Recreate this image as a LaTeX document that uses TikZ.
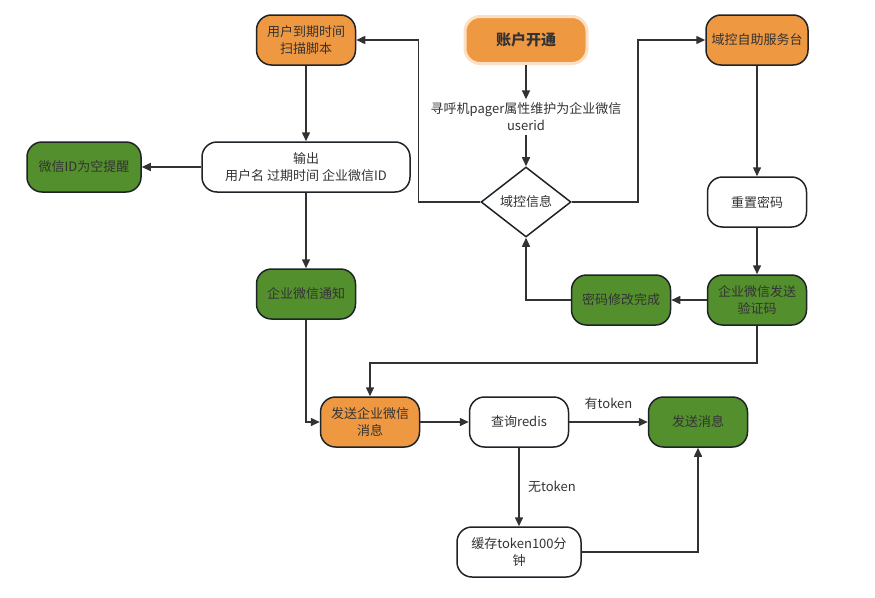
\documentclass[tikz,border=0pt]{standalone}
\usepackage{fontspec}
\setmainfont{Noto Sans CJK SC}
\usetikzlibrary{arrows.meta,shapes.geometric}
\definecolor{boxorange}{RGB}{239,152,66}
\definecolor{boxgreen}{RGB}{84,143,46}
\definecolor{boxline}{RGB}{30,35,40}
\definecolor{flowline}{RGB}{50,50,50}
\definecolor{glow}{RGB}{253,224,196}

\begin{document}
\begin{tikzpicture}[x=1pt, y=-1pt,
    box/.style={draw=boxline, line width=1.5pt, rounded corners=15pt,
        minimum width=99pt, minimum height=50pt, align=center,
        font=\fontsize{13}{17}\selectfont, text=black!80},
    orangebox/.style={box, fill=boxorange},
    greenbox/.style={box, fill=boxgreen},
    whitebox/.style={box, fill=white},
    flow/.style={draw=flowline, line width=1.5pt, -{Triangle[length=9pt,width=8pt]}},
    lbl/.style={font=\fontsize{13}{17}\selectfont, text=black!80, align=center}]
    \useasboundingbox (0,0) rectangle (875,597);

    % obere Reihe
    \node[orangebox] (scan) at (306,40) {用户到期时间\\扫描脚本};
    \node[box, fill=boxorange, draw=glow, line width=3pt, minimum width=122pt,
        minimum height=47pt, font=\fontsize{15}{18}\selectfont\bfseries] (open) at (526,40) {账户开通};
    \node[orangebox, minimum width=102pt] (selfsvc) at (757,40) {域控自助服务台};
    \node[lbl] (attr) at (526,117) {寻呼机pager属性维护为企业微信\\userid};

    % mittlere Reihe
    \node[whitebox, minimum width=208pt] (out) at (306,167) {输出\\用户名 过期时间 企业微信ID};
    \node[greenbox, minimum width=114pt] (empty) at (84,167) {微信ID为空提醒};
    \node[diamond, draw=boxline, line width=1.5pt, fill=white, minimum width=90pt,
        minimum height=70pt, inner sep=1pt, lbl] (info) at (526,202) {域控信息};
    \node[whitebox] (reset) at (757,202) {重置密码};
    \node[greenbox] (code) at (757,300) {企业微信发送\\验证码};
    \node[greenbox] (done) at (621,300) {密码修改完成};
    \node[greenbox] (notify) at (306,294) {企业微信通知};

    % untere Reihe
    \node[orangebox] (send) at (370,422) {发送企业微信\\消息};
    \node[whitebox] (redis) at (519,422) {查询redis};
    \node[greenbox] (msg) at (698,422) {发送消息};
    \node[whitebox, minimum width=124pt] (cache) at (519,552) {缓存token100分\\钟};

    % Verbindungen
    \draw[flow] (open) -- (attr);
    \draw[flow] (attr) -- (info);
    \draw[flow] (info.west) -- ++(-62,0) |- (scan.east);
    \draw[flow] (info.east) -- ++(66,0) |- (selfsvc.west);
    \draw[flow] (scan) -- (out);
    \draw[flow] (out) -- (empty);
    \draw[flow] (out) -- (notify);
    \draw[flow] (notify.south) |- (send.west);
    \draw[flow] (selfsvc) -- (reset);
    \draw[flow] (reset) -- (code);
    \draw[flow] (code) -- (done);
    \draw[flow] (done.west) -| (info.south);
    \draw[flow] (code.south) -- ++(0,37) -| (send.north);
    \draw[flow] (send) -- (redis);
    \draw[flow] (redis) -- node[lbl, above, yshift=8pt] {有token} (msg);
    \draw[flow] (redis) -- node[lbl, right, xshift=5pt] {无token} (cache);
    \draw[flow] (cache.east) -| (msg.south);
\end{tikzpicture}
\end{document}
